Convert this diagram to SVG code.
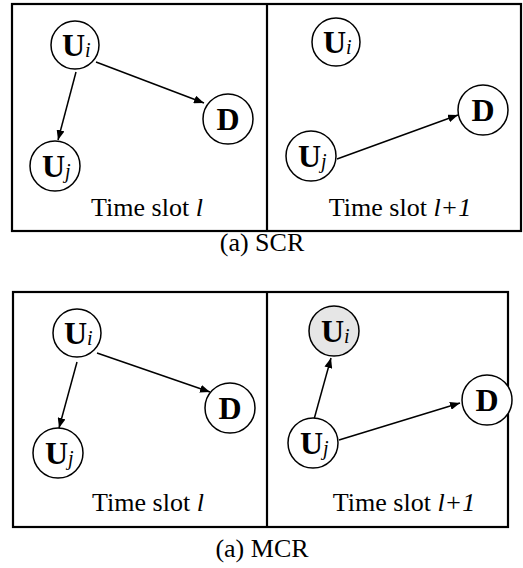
<svg xmlns="http://www.w3.org/2000/svg" width="523" height="568" viewBox="0 0 523 568">
<defs>
<style>
.frame{fill:none;stroke:#000;stroke-width:2.2}
.node{fill:#fff;stroke:#000;stroke-width:1.5}
.shade{fill:#e6e6e6;stroke:#000;stroke-width:1.5}
.lbl{font-family:"Liberation Serif","Times New Roman",serif;font-size:32px;font-weight:bold;fill:#000}
.sub{font-size:20px;font-style:italic;font-weight:normal}
.cap{font-family:"Liberation Serif","Times New Roman",serif;font-size:26px;fill:#000}
.it{font-style:italic}
.edge{stroke:#000;stroke-width:1.5;fill:none;marker-end:url(#ah)}
</style>
<marker id="ah" viewBox="0 0 10 8" refX="10" refY="4" markerWidth="10" markerHeight="8" markerUnits="userSpaceOnUse" orient="auto">
<path d="M0,0 L10,4 L0,8 z" fill="#000"/>
</marker>
</defs>

<g id="frames">
<rect class="frame" x="12" y="4" width="509" height="227"/>
<line class="frame" x1="267" y1="4" x2="267" y2="231"/>
<rect class="frame" x="13" y="292" width="495" height="235"/>
<line class="frame" x1="267" y1="292" x2="267" y2="527"/>
</g>

<g id="connectors">
<line class="edge" x1="96" y1="62" x2="204" y2="103"/>
<line class="edge" x1="76" y1="72" x2="58" y2="140"/>
<line class="edge" x1="337" y1="159" x2="458" y2="115"/>
<line class="edge" x1="97" y1="353" x2="210" y2="392"/>
<line class="edge" x1="77" y1="362" x2="59" y2="428"/>
<line class="edge" x1="313" y1="423" x2="331" y2="358"/>
<line class="edge" x1="339" y1="440" x2="460" y2="403"/>
</g>

<g id="scr-l-Ui"><circle class="node" cx="75" cy="45" r="24"/><text class="lbl" x="62" y="56">U<tspan class="sub" dy="1">i</tspan></text></g>
<g id="scr-l-D"><circle class="node" cx="228" cy="119" r="25"/><text class="lbl" x="228" y="130" text-anchor="middle">D</text></g>
<g id="scr-l-Uj"><circle class="node" cx="55" cy="166" r="25"/><text class="lbl" x="42" y="177">U<tspan class="sub" dy="1">j</tspan></text></g>

<g id="scr-r-Ui"><circle class="node" cx="336" cy="42" r="24"/><text class="lbl" x="323" y="53">U<tspan class="sub" dy="1">i</tspan></text></g>
<g id="scr-r-D"><circle class="node" cx="483" cy="110" r="25"/><text class="lbl" x="483" y="121" text-anchor="middle">D</text></g>
<g id="scr-r-Uj"><circle class="node" cx="311" cy="156" r="25"/><text class="lbl" x="298" y="167">U<tspan class="sub" dy="1">j</tspan></text></g>

<g id="mcr-l-Ui"><circle class="node" cx="77" cy="333" r="24"/><text class="lbl" x="64" y="344">U<tspan class="sub" dy="1">i</tspan></text></g>
<g id="mcr-l-D"><circle class="node" cx="230" cy="408" r="25"/><text class="lbl" x="230" y="419" text-anchor="middle">D</text></g>
<g id="mcr-l-Uj"><circle class="node" cx="58" cy="453" r="25"/><text class="lbl" x="45" y="464">U<tspan class="sub" dy="1">j</tspan></text></g>

<g id="mcr-r-Ui"><circle class="shade" cx="334" cy="331" r="25"/><text class="lbl" x="321" y="342">U<tspan class="sub" dy="1">i</tspan></text></g>
<g id="mcr-r-D"><circle class="node" cx="487" cy="400" r="25"/><text class="lbl" x="487" y="411" text-anchor="middle">D</text></g>
<g id="mcr-r-Uj"><circle class="node" cx="313" cy="443" r="25"/><text class="lbl" x="300" y="454">U<tspan class="sub" dy="1">j</tspan></text></g>

<g id="captions">
<text class="cap" x="147" y="216" text-anchor="middle">Time slot <tspan class="it">l</tspan></text>
<text class="cap" x="400" y="216" text-anchor="middle">Time slot <tspan class="it">l+1</tspan></text>
<text class="cap" x="262" y="251" text-anchor="middle">(a) SCR</text>
<text class="cap" x="148" y="511" text-anchor="middle">Time slot <tspan class="it">l</tspan></text>
<text class="cap" x="404" y="511" text-anchor="middle">Time slot <tspan class="it">l+1</tspan></text>
<text class="cap" x="262" y="557" text-anchor="middle">(a) MCR</text>
</g>
</svg>
